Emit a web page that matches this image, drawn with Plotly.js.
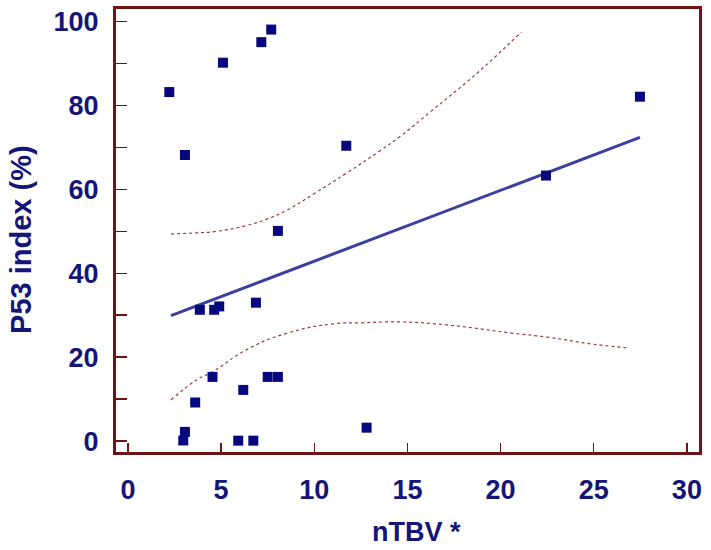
<!DOCTYPE html>
<html>
<head>
<meta charset="utf-8">
<script src="https://cdn.plot.ly/plotly-3.0.1.min.js"></script>
<style>
  html, body { margin: 0; padding: 0; background: #ffffff; }
  #chart { width: 711px; height: 550px; }
</style>
</head>
<body>
<div id="chart"></div>
<script>
// Scatter data: nTBV vs P53 index (%)
const pointX = [2.22, 3.06, 5.10, 7.16, 7.69, 11.72, 8.05, 3.86, 4.63, 4.90, 6.87, 4.54, 7.50, 8.05, 6.19, 3.61, 3.06, 2.97, 5.92, 6.73, 12.81, 22.44, 27.48];
const pointY = [83.2, 68.2, 90.2, 95.1, 98.1, 70.4, 50.1, 31.3, 31.3, 32.1, 33.0, 15.3, 15.3, 15.3, 12.2, 9.2, 2.2, 0.15, 0.1, 0.1, 3.2, 63.3, 82.1];

// Regression line (end points)
const fitX = [2.31, 27.48];
const fitY = [29.9, 72.4];

// Confidence band curves
const upperX = [2.31, 3.5, 4.76, 6.37, 7.44, 8.52, 10.0, 11.74, 13.53, 14.6, 16.21, 18.89, 21.11];
const upperY = [49.4, 49.6, 50.0, 51.4, 52.9, 55.0, 59.0, 63.9, 69.2, 72.6, 78.4, 88.3, 97.5];
const lowerX = [2.31, 3.69, 4.58, 6.37, 8.52, 11.02, 12.5, 14.6, 17.1, 20.68, 22.47, 24.98, 26.86];
const lowerY = [9.8, 14.6, 16.6, 21.8, 25.7, 27.95, 28.2, 28.4, 27.7, 25.7, 24.8, 23.1, 22.2];

// Axis labels
const xTitle = 'nTBV *';
const yTitle = 'P53 index (%)';

const frameColor = '#6e1414';
const textColor = '#151579';
const fontFamily = '"Liberation Sans", Arial, Helvetica, sans-serif';

const traces = [
  {
    x: upperX, y: upperY, type: 'scatter', mode: 'lines',
    line: { color: '#a33a3a', width: 1.2, dash: 'dot', shape: 'spline', smoothing: 1.3 },
    hoverinfo: 'skip', showlegend: false
  },
  {
    x: lowerX, y: lowerY, type: 'scatter', mode: 'lines',
    line: { color: '#a33a3a', width: 1.2, dash: 'dot', shape: 'spline', smoothing: 1.3 },
    hoverinfo: 'skip', showlegend: false
  },
  {
    x: fitX, y: fitY, type: 'scatter', mode: 'lines',
    line: { color: '#3b3f9e', width: 3 },
    showlegend: false
  },
  {
    x: pointX, y: pointY, type: 'scatter', mode: 'markers',
    marker: { symbol: 'square', size: 10, color: '#08087e' },
    showlegend: false
  }
];

const tickFont = { family: fontFamily, size: 27, color: textColor, weight: 700 };

const layout = {
  width: 711, height: 550,
  margin: { l: 116, r: 12, t: 9, b: 98, pad: 0 },
  paper_bgcolor: '#ffffff', plot_bgcolor: '#ffffff',
  showlegend: false,
  xaxis: {
    range: [-0.64, 30.65],
    tick0: 0, dtick: 5,
    ticks: 'inside', ticklen: 9, tickwidth: 1.5, tickcolor: frameColor,
    showline: true, mirror: true, linecolor: frameColor, linewidth: 3,
    showgrid: false, zeroline: false,
    tickfont: tickFont,
    ticklabelstandoff: 12,
    automargin: false
  },
  yaxis: {
    range: [-2.6, 103],
    tick0: 0, dtick: 20,
    ticks: 'inside', ticklen: 11, tickwidth: 1.5, tickcolor: frameColor,
    minor: { dtick: 10, ticks: 'inside', ticklen: 11, tickwidth: 1.5, tickcolor: frameColor, showgrid: false },
    showline: true, mirror: true, linecolor: frameColor, linewidth: 3,
    showgrid: false, zeroline: false,
    tickfont: tickFont,
    ticklabelstandoff: 9,
    automargin: false
  },
  annotations: [
    {
      text: xTitle, xref: 'paper', yref: 'paper', x: 0.515, y: -0.181,
      xanchor: 'center', yanchor: 'middle', showarrow: false,
      font: { family: fontFamily, size: 27, color: textColor, weight: 700 }
    },
    {
      text: yTitle, xref: 'paper', yref: 'paper', x: -0.162, y: 0.48,
      xanchor: 'center', yanchor: 'middle', showarrow: false, textangle: -90,
      font: { family: fontFamily, size: 29, color: textColor, weight: 700 }
    }
  ]
};

Plotly.newPlot('chart', traces, layout, { staticPlot: true, displayModeBar: false });
</script>
</body>
</html>
